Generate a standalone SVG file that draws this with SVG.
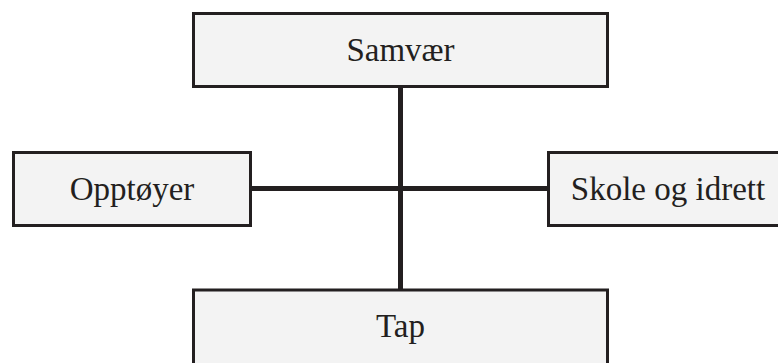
<svg xmlns="http://www.w3.org/2000/svg" width="778" height="363" viewBox="0 0 778 363">
  <style>
    .box { fill: #f3f3f3; stroke: #231f20; stroke-width: 3; }
    .label { font-family: "Liberation Serif", "Times New Roman", serif; font-size: 33px; fill: #231f20; text-anchor: middle; }
    .link { stroke: #231f20; stroke-width: 5; fill: none; }
  </style>
  <rect width="778" height="363" fill="#ffffff"/>
  <g id="connectors">
    <line class="link" x1="400.5" y1="87" x2="400.5" y2="290"/>
    <line class="link" x1="251" y1="188.5" x2="549" y2="188.5"/>
  </g>
  <g id="samvaer">
    <rect class="box" x="193.5" y="13.5" width="414" height="73"/>
    <text class="label" x="400.5" y="61">Samvær</text>
  </g>
  <g id="opptoyer">
    <rect class="box" x="13.5" y="152.5" width="237" height="73"/>
    <text class="label" x="132" y="199.5">Opptøyer</text>
  </g>
  <g id="skole-og-idrett">
    <rect class="box" x="548.5" y="152.5" width="240" height="73"/>
    <text class="label" x="668" y="199.5">Skole og idrett</text>
  </g>
  <g id="tap">
    <rect class="box" x="193.5" y="290" width="414" height="80"/>
    <text class="label" x="400.5" y="337">Tap</text>
  </g>
</svg>
